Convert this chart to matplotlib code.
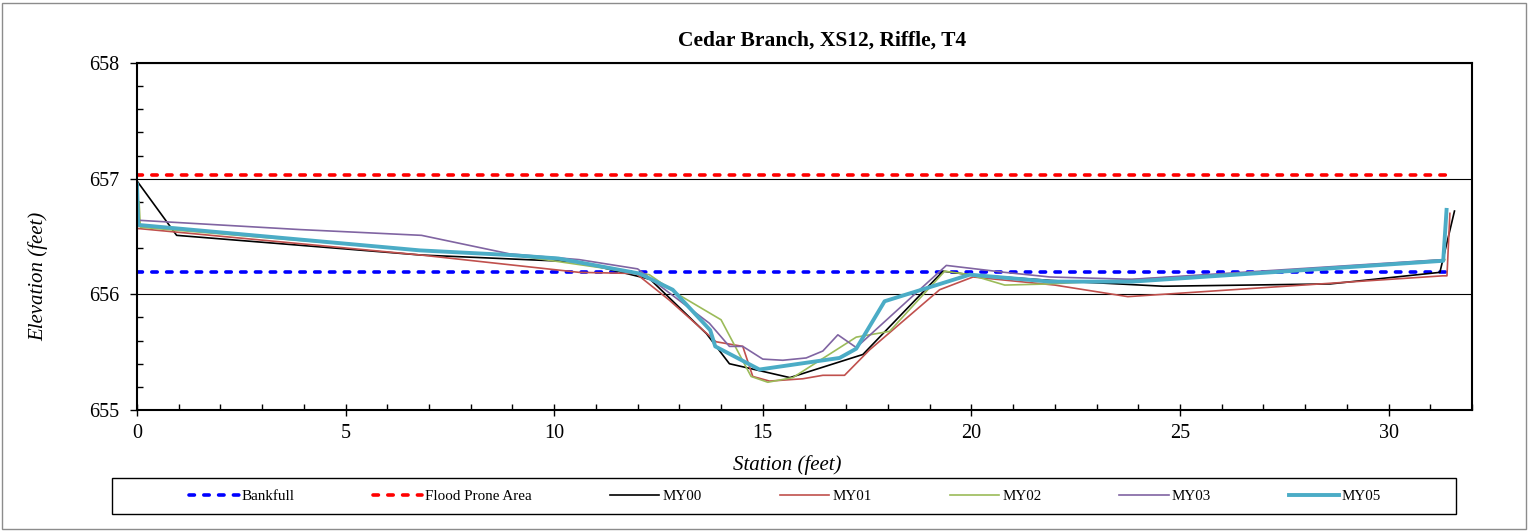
import matplotlib
matplotlib.use("Agg")
import matplotlib.pyplot as plt
from matplotlib.ticker import MultipleLocator
from matplotlib.patches import Rectangle

plt.rcParams['font.family'] = ['Liberation Serif', 'DejaVu Serif']

title = "Cedar Branch, XS12, Riffle, T4"
xlabel = "Station (feet)"
ylabel = "Elevation (feet)"

bankfull_x = [0, 31.47]
bankfull_y = [656.19, 656.19]
flood_x = [0, 31.5]
flood_y = [657.03, 657.03]

my00_x = [0, 0.95, 6.8, 10.6, 12.3, 13.65, 14.2, 15.65, 17.4, 19.32, 19.96, 21.9, 24.6, 28.6, 31.23, 31.58]
my00_y = [656.98, 656.51, 656.34, 656.28, 656.13, 655.66, 655.40, 655.28, 655.48, 656.20, 656.17, 656.12, 656.07, 656.09, 656.19, 656.72]

my01_x = [0, 6.8, 10.6, 11.96, 12.76, 13.88, 14.52, 14.76, 15.16, 15.96, 16.44, 16.96, 17.56, 19.24, 20.04, 22.0, 23.75, 31.3, 31.4, 31.47]
my01_y = [656.57, 656.34, 656.19, 656.18, 655.95, 655.59, 655.55, 655.29, 655.25, 655.27, 655.30, 655.30, 655.52, 656.04, 656.15, 656.08, 655.98, 656.16, 656.16, 656.70]

my02_x = [0.05, 0.08, 6.8, 9.0, 12.28, 12.92, 14.0, 14.72, 15.12, 15.72, 17.24, 18.04, 19.36, 19.96, 20.8, 21.88, 27.5, 31.35]
my02_y = [656.80, 656.58, 656.38, 656.34, 656.17, 656.01, 655.78, 655.29, 655.24, 655.28, 655.63, 655.68, 656.20, 656.17, 656.08, 656.09, 656.20, 656.30]

my03_x = [0.05, 3.9, 6.82, 8.93, 10.6, 12.0, 13.72, 14.2, 14.52, 15.0, 15.48, 16.04, 16.44, 16.8, 17.24, 19.4, 20.8, 21.88, 23.85, 31.3]
my03_y = [656.64, 656.56, 656.51, 656.35, 656.30, 656.22, 655.75, 655.55, 655.55, 655.44, 655.43, 655.45, 655.51, 655.65, 655.54, 656.25, 656.19, 656.15, 656.13, 656.30]

my05_x = [0.0, 0.03, 6.78, 8.93, 10.1, 12.04, 12.84, 13.74, 13.86, 14.92, 16.84, 17.24, 17.92, 19.96, 21.88, 23.85, 31.31, 31.39]
my05_y = [656.95, 656.60, 656.38, 656.34, 656.31, 656.18, 656.04, 655.69, 655.55, 655.35, 655.45, 655.53, 655.94, 656.17, 656.11, 656.11, 656.29, 656.73]

W, H = 1529, 531
fig = plt.figure(figsize=(W / 100, H / 100), dpi=100)
fig.patch.set_facecolor('white')
ax = fig.add_axes([137 / W, 1 - 410 / H, (1472 - 137) / W, (410 - 63) / H])

l1, = ax.plot(bankfull_x, bankfull_y, color='#0000FF', lw=2.6, linestyle=(0, (1.5, 2.6)), label='Bankfull', dash_capstyle='round')
l2, = ax.plot(flood_x, flood_y, color='#FF0000', lw=2.6, linestyle=(0, (1.5, 2.6)), label='Flood Prone Area', dash_capstyle='round')
l3, = ax.plot(my00_x, my00_y, color='black', lw=1.2, label='MY00')
l4, = ax.plot(my01_x, my01_y, color='#C0504D', lw=1.2, label='MY01')
l5, = ax.plot(my02_x, my02_y, color='#9BBB59', lw=1.2, label='MY02')
l6, = ax.plot(my03_x, my03_y, color='#8064A2', lw=1.2, label='MY03')
l7, = ax.plot(my05_x, my05_y, color='#4BACC6', lw=2.8, label='MY05')

ax.set_xlim(0, 32)
ax.set_ylim(655, 658)
ax.xaxis.set_major_locator(MultipleLocator(5))
ax.xaxis.set_minor_locator(MultipleLocator(1))
ax.yaxis.set_major_locator(MultipleLocator(1))
ax.yaxis.set_minor_locator(MultipleLocator(0.2))
ax.yaxis.grid(True, which='major', color='black', lw=0.8)
ax.set_axisbelow(True)

for s in ax.spines.values():
    s.set_linewidth(1.5)
    s.set_color('black')

ax.tick_params(axis='x', which='major', direction='inout', length=8, width=1, labelsize=14.5, pad=6)
ax.tick_params(axis='x', which='minor', direction='in', length=4, width=1)
ax.tick_params(axis='y', which='major', direction='out', length=5, width=1, labelsize=14.5, pad=8)
ax.tick_params(axis='y', which='minor', direction='in', length=4, width=1)

fig.text(822 / W, 1 - 41 / H, title, ha='center', va='center', fontsize=15.5, fontweight='bold')
fig.text(787 / W, 1 - 465 / H, xlabel, ha='center', va='center', fontsize=15, style='italic')
fig.text(38 / W, 1 - 276 / H, ylabel, ha='center', va='center', fontsize=15, style='italic', rotation=90)

# legend box frame
fig.patches.append(Rectangle((112 / W, 1 - 514 / H), (1456 - 112) / W, 36 / H, transform=fig.transFigure,
                             fill=False, edgecolor='black', lw=1.0))
leg = fig.legend(handles=[l1, l2, l3, l4, l5, l6, l7], loc='center',
                 bbox_to_anchor=(785 / W, 1 - 496 / H),
                 ncol=7, fontsize=10.8, handlelength=3.3, handletextpad=0.2,
                 columnspacing=5.2, frameon=False, borderaxespad=0, borderpad=0)

fig.patches.append(Rectangle((2 / W, 2 / H), (W - 5) / W, (H - 5) / H, transform=fig.transFigure,
                             fill=False, edgecolor='#8c8c8c', lw=1.0))

fig.savefig('out.png', dpi=100, facecolor='white')
